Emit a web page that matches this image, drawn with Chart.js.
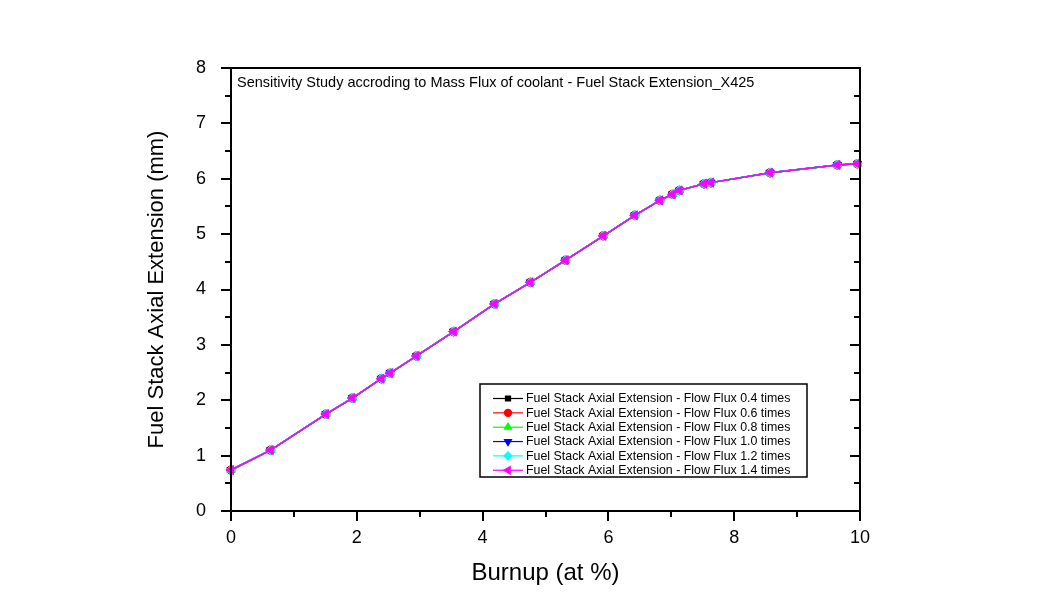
<!DOCTYPE html>
<html><head><meta charset="utf-8">
<script src="https://cdn.jsdelivr.net/npm/chart.js@4.4.0/dist/chart.umd.min.js"></script>
<style>html,body{margin:0;padding:0;background:#fff}canvas{display:block}</style>
</head><body>
<canvas id="c" width="1039" height="608"></canvas>
<script>
// ---- data ----
const burnup = [0, 0.63, 1.51, 1.93, 2.39, 2.53, 2.95, 3.54, 4.19, 4.76, 5.32, 5.92, 6.42, 6.82, 7.02, 7.13, 7.52, 7.63, 8.57, 9.64, 9.96];
const extFlux04 = [0.74, 1.10, 1.75, 2.04, 2.39, 2.49, 2.80, 3.24, 3.74, 4.13, 4.53, 4.97, 5.34, 5.61, 5.72, 5.79, 5.91, 5.93, 6.11, 6.25, 6.27];
const extFlux06 = [0.74, 1.10, 1.75, 2.04, 2.39, 2.49, 2.80, 3.24, 3.74, 4.13, 4.53, 4.97, 5.34, 5.61, 5.72, 5.79, 5.91, 5.93, 6.11, 6.25, 6.27];
const extFlux08 = [0.74, 1.10, 1.75, 2.04, 2.39, 2.49, 2.80, 3.24, 3.74, 4.13, 4.53, 4.97, 5.34, 5.61, 5.72, 5.79, 5.91, 5.93, 6.11, 6.25, 6.27];
const extFlux10 = [0.74, 1.10, 1.75, 2.04, 2.39, 2.49, 2.80, 3.24, 3.74, 4.13, 4.53, 4.97, 5.34, 5.61, 5.72, 5.79, 5.91, 5.93, 6.11, 6.25, 6.27];
const extFlux12 = [0.74, 1.10, 1.75, 2.04, 2.39, 2.49, 2.80, 3.24, 3.74, 4.13, 4.53, 4.97, 5.34, 5.61, 5.72, 5.79, 5.91, 5.93, 6.11, 6.25, 6.27];
const extFlux14 = [0.74, 1.10, 1.75, 2.04, 2.39, 2.49, 2.80, 3.24, 3.74, 4.13, 4.53, 4.97, 5.34, 5.61, 5.72, 5.79, 5.91, 5.93, 6.11, 6.25, 6.27];
const seriesLabels = [
  'Fuel Stack Axial Extension - Flow Flux 0.4 times',
  'Fuel Stack Axial Extension - Flow Flux 0.6 times',
  'Fuel Stack Axial Extension - Flow Flux 0.8 times',
  'Fuel Stack Axial Extension - Flow Flux 1.0 times',
  'Fuel Stack Axial Extension - Flow Flux 1.2 times',
  'Fuel Stack Axial Extension - Flow Flux 1.4 times'
];
const seriesValues = [extFlux04, extFlux06, extFlux08, extFlux10, extFlux12, extFlux14];
const xTickValues = [0, 2, 4, 6, 8, 10];
const yTickValues = [0, 1, 2, 3, 4, 5, 6, 7, 8];
const plotTitle = 'Sensitivity Study accroding to Mass Flux of coolant - Fuel Stack Extension_X425';
const xTitle = 'Burnup (at %)';
const yTitle = 'Fuel Stack Axial Extension (mm)';

// ---- styles ----
const FONT = "'Liberation Sans', Arial, sans-serif";
const markerStyles = [
  {color: '#000000', style: 'rect', rotation: 0, radius: 4.2},
  {color: '#ff0000', style: 'circle', rotation: 0, radius: 4.2},
  {color: '#00ff00', style: 'triangle', rotation: 0, radius: 4.8},
  {color: '#0000ff', style: 'triangle', rotation: 180, radius: 4.8},
  {color: '#00ffff', style: 'rectRot', rotation: 0, radius: 4.8},
  {color: '#ff00ff', style: 'triangle', rotation: 270, radius: 5.2}
];

const datasets = seriesValues.map((vals, i) => ({
  label: seriesLabels[i],
  data: burnup.map((x, j) => ({x: x, y: vals[j]})),
  borderColor: markerStyles[i].color,
  backgroundColor: markerStyles[i].color,
  pointBackgroundColor: markerStyles[i].color,
  pointBorderColor: markerStyles[i].color,
  pointBorderWidth: 1,
  pointStyle: markerStyles[i].style,
  pointRotation: markerStyles[i].rotation,
  pointRadius: markerStyles[i].radius,
  borderWidth: 1.5,
  tension: 0,
  clip: false,
  order: seriesValues.length - i
}));

const framePlugin = {
  id: 'frame',
  afterDraw(chart) {
    const {ctx, chartArea: a, scales: {x, y}} = chart;
    ctx.save();
    ctx.strokeStyle = '#000';
    ctx.lineWidth = 2;
    ctx.lineCap = 'square';
    ctx.strokeRect(a.left, a.top, a.right - a.left, a.bottom - a.top);
    ctx.lineCap = 'butt';
    ctx.beginPath();
    for (let v = 0; v <= 8.001; v += 0.5) {
      const py = Math.round(y.getPixelForValue(v));
      const len = (Math.abs(v - Math.round(v)) < 1e-6) ? 10 : 6;
      ctx.moveTo(a.left - len, py); ctx.lineTo(a.left, py);
      ctx.moveTo(a.right - len, py); ctx.lineTo(a.right, py);
    }
    for (let v = 0; v <= 10.001; v += 1) {
      const px = Math.round(x.getPixelForValue(v));
      const len = (v % 2 === 0) ? 10 : 6;
      ctx.moveTo(px, a.bottom); ctx.lineTo(px, a.bottom + len);
    }
    ctx.stroke();
    // plot title inside the frame
    ctx.fillStyle = '#000';
    ctx.font = '14.5px ' + FONT;
    ctx.textAlign = 'left';
    ctx.textBaseline = 'alphabetic';
    ctx.fillText(plotTitle, a.left + 6, a.top + 19);
    // legend box
    const bx = 480, by = 384, bw = 327, bh = 93;
    ctx.lineWidth = 1.5;
    ctx.strokeRect(bx, by, bw, bh);
    ctx.font = '12.4px ' + FONT;
    ctx.textBaseline = 'middle';
    chart.data.datasets.forEach((ds, i) => {
      const ry = by + 14.5 + i * 14.35;
      const m = markerStyles[i];
      ctx.strokeStyle = m.color;
      ctx.fillStyle = m.color;
      ctx.lineWidth = 1.2;
      ctx.beginPath();
      ctx.moveTo(bx + 13, ry); ctx.lineTo(bx + 43, ry);
      ctx.stroke();
      Chart.helpers.drawPoint(ctx, {pointStyle: m.style, rotation: m.rotation, radius: m.radius * 0.85, borderWidth: 1}, bx + 28, ry);
      ctx.fillStyle = '#000';
      ctx.fillText(ds.label, bx + 46, ry + 0.5);
    });
    ctx.restore();
  }
};

new Chart(document.getElementById('c'), {
  type: 'line',
  data: {datasets},
  options: {
    responsive: false,
    animation: false,
    layout: {padding: {left: 0, right: 179, top: 68, bottom: 0}},
    plugins: {legend: {display: false}, tooltip: {enabled: false}, title: {display: false}},
    scales: {
      x: {
        type: 'linear', min: 0, max: 10,
        afterFit(s) { s.height = 97; },
        afterBuildTicks(s) { s.ticks = xTickValues.map(v => ({value: v})); },
        grid: {display: false},
        border: {display: false},
        ticks: {color: '#000', font: {family: FONT, size: 18}, padding: 8, maxRotation: 0,
                callback: v => String(v)},
        title: {display: true, text: xTitle, color: '#000', font: {family: FONT, size: 24}, padding: {top: 0, bottom: 20}}
      },
      y: {
        type: 'linear', min: 0, max: 8,
        afterFit(s) { s.width = 231; },
        afterBuildTicks(s) { s.ticks = yTickValues.map(v => ({value: v})); },
        grid: {display: false},
        border: {display: false},
        ticks: {color: '#000', font: {family: FONT, size: 18}, padding: 17,
                callback: v => String(v)},
        title: {display: true, text: yTitle, color: '#000', font: {family: FONT, size: 22}, padding: {top: 144, bottom: 0}}
      }
    }
  },
  plugins: [framePlugin]
});
</script>
</body></html>
